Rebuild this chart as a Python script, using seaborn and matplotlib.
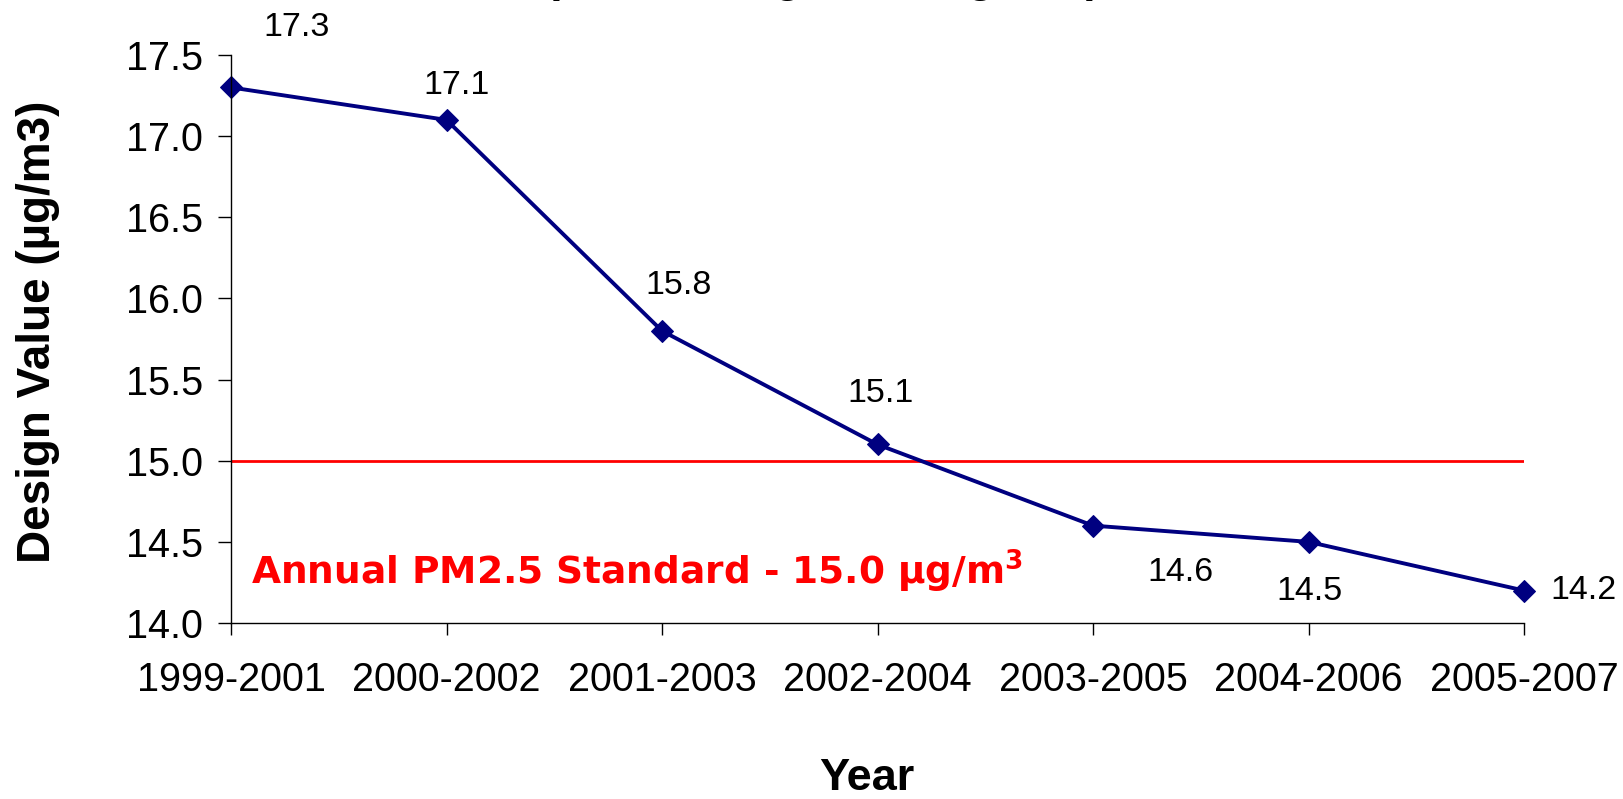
import matplotlib
matplotlib.use("Agg")
import matplotlib.pyplot as plt
import seaborn as sns
import pandas as pd

# ---- data ----
periods = ["1999-2001", "2000-2002", "2001-2003", "2002-2004",
           "2003-2005", "2004-2006", "2005-2007"]
design_values = [17.3, 17.1, 15.8, 15.1, 14.6, 14.5, 14.2]
standard_value = 15.0
y_ticks = [14.0, 14.5, 15.0, 15.5, 16.0, 16.5, 17.0, 17.5]

# label offsets (points) for data labels, layout only
label_offsets = [(47, 43), (7, 25), (12, 33), (2, 37), (63, -34), (1, -36), (43, 0)]

sns.set_theme(style="white")
plt.rcParams['font.family'] = ['Liberation Sans', 'DejaVu Sans']
plt.rcParams['mathtext.fontset'] = 'custom'
plt.rcParams['mathtext.rm'] = 'DejaVu Sans:bold'
plt.rcParams['mathtext.it'] = 'DejaVu Sans:bold'
plt.rcParams['mathtext.bf'] = 'DejaVu Sans:bold'

df = pd.DataFrame({"Period": periods, "Value": design_values})

fig = plt.figure(figsize=(16.23, 7.99), dpi=100)
ax = fig.add_axes([231/1623, 1 - 623/799, (1524-231)/1623, (623-55)/799])

sns.lineplot(data=df, x="Period", y="Value", ax=ax, sort=False,
             color="#000080", linewidth=2.8, marker="D", markersize=11,
             markeredgecolor="#000080", markerfacecolor="#000080", clip_on=False)

ax.axhline(standard_value, color="#ff0000", linewidth=2.0, zorder=1)

ax.set_xlim(0, len(periods) - 1)
ax.set_ylim(y_ticks[0], y_ticks[-1])
ax.set_yticks(y_ticks)
ax.set_yticklabels([f"{v:.1f}" for v in y_ticks])
ax.set_xticks(range(len(periods)))
ax.set_xticklabels(periods)
ax.set_xlabel("")
ax.set_ylabel("")

for side in ["top", "right"]:
    ax.spines[side].set_visible(False)
for side in ["left", "bottom"]:
    ax.spines[side].set_color("black")
    ax.spines[side].set_linewidth(1.0)

ax.tick_params(axis="y", direction="out", length=9.4, width=1.0, color="black",
               labelsize=28.5, pad=10.5, labelcolor="black", left=True)
ax.tick_params(axis="x", direction="out", length=8.6, width=1.0, color="black",
               labelsize=28.5, pad=19, labelcolor="black", bottom=True)

for i, (v, off) in enumerate(zip(design_values, label_offsets)):
    ax.annotate(f"{v:.1f}", xy=(i, v), xytext=off, textcoords="offset points",
                ha="center", va="center", fontsize=24.5, color="black",
                annotation_clip=False)

fig.text(251/1623, 1 - 585/799, "Annual PM2.5 Standard - 15.0 µg/m$^{3}$",
         color="#ff0000", fontsize=27, fontweight="bold",
         family=["DejaVu Sans"], ha="left", va="baseline")

fig.text(867/1623, 1 - 778/799, "Year", fontsize=32.5, fontweight="bold",
         ha="center", va="center", color="black")
fig.text(38/1623, 1 - 332/799, "Design Value (µg/m3)", fontsize=33,
         fontweight="bold", rotation=90, ha="center", va="center", color="black")

# title (mostly cut off at the top edge in the reference)
fig.text(823/1623, 1 + 8/799, "(Site Average for Regions)", fontsize=32,
         fontweight="bold", ha="center", va="baseline", color="black")

fig.savefig("out.png", dpi=100)
